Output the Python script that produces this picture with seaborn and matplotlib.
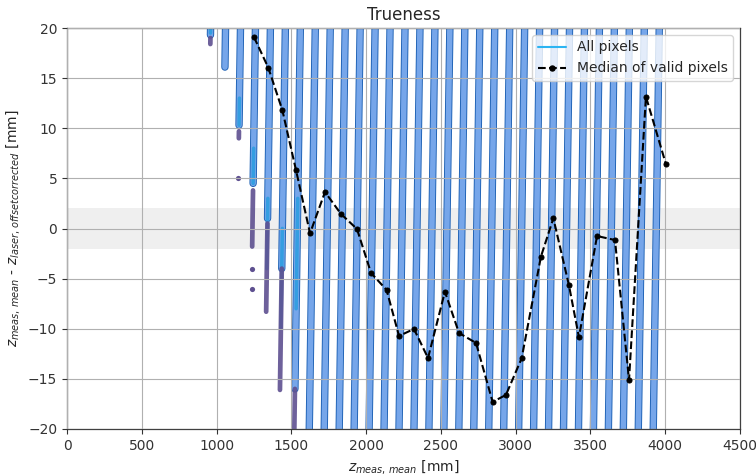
import numpy as np
import pandas as pd
import matplotlib
matplotlib.use("Agg")
import matplotlib.pyplot as plt
import matplotlib.patheffects as pe
from matplotlib.lines import Line2D
import seaborn as sns

# ---- data ----
# "All pixels" bands: nominal laser distance (x at y=0) and lowest y reached
band_x0 = [940, 1040, 1140, 1240, 1340, 1440, 1540, 1640, 1740, 1840, 1940, 2040,
           2140, 2240, 2340, 2440, 2540, 2640, 2740, 2840, 2940, 3040, 3140, 3240,
           3340, 3440, 3540, 3640, 3740, 3840, 3940]
band_bottom = [19.3, 16.1, 10.3, 4.5, 1.0, -4.0, -16.0] + [-26.0] * 24

# brighter cyan parts of the leftmost bands (x0, y_top, y_bottom)
cyan_x0 = [940, 1140, 1240, 1340, 1440, 1540]
cyan_top = [20.5, 13.0, 8.0, 3.0, 0.0, 3.0]
cyan_bot = [19.5, 10.3, 4.5, -4.0, -10.0, -8.0]

# invalid pixels (purple) runs: (x0, y_top, y_bottom)
inv_x0 = [940, 1140, 1240, 1340, 1440, 1540]
inv_top = [19.0, 9.7, 3.8, 0.5, -4.0, -16.0]
inv_bot = [18.4, 9.0, -1.8, -8.3, -16.1, -21.0]
# isolated invalid points
iso_x0 = [1140, 1240, 1240]
iso_y = [5.0, -4.0, -6.0]

# median of valid pixels
median_x = [1250, 1346, 1440, 1531, 1625, 1725, 1832, 1939, 2033, 2137, 2220, 2320,
            2414, 2527, 2621, 2735, 2846, 2935, 3040, 3169, 3252, 3356, 3423, 3544,
            3664, 3758, 3871, 4005]
median_y = [19.1, 16.04, 11.8, 5.84, -0.48, 3.64, 1.45, -0.05, -4.44, -6.13, -10.72, -10.02,
            -12.92, -6.3, -10.42, -11.42, -17.3, -16.6, -12.95, -2.8, 1.02, -5.64, -10.85, -0.75,
            -1.15, -15.1, 13.15, 6.4]

xticks = [0, 500, 1000, 1500, 2000, 2500, 3000, 3500, 4000, 4500]
yticks = [-20, -15, -10, -5, 0, 5, 10, 15, 20]

# ---- plotting ----
sns.set_style("ticks")
plt.rcParams['font.family'] = ['DejaVu Sans']

fig = plt.figure(figsize=(7.56, 4.76), dpi=100)
ax = fig.add_axes([67 / 756, 1 - 429 / 476, (740 - 67) / 756, (429 - 28) / 476])

ax.axhspan(-2, 2, color='#efefef', zorder=0, lw=0)

band_color = '#76a6ea'
edge_color = '#1c60b4'
for x0, b in zip(band_x0, band_bottom):
    ys = np.array([b, 26.0])
    ax.plot(x0 + ys, ys, color=band_color, lw=4.0, solid_capstyle='round', zorder=1,
            path_effects=[pe.Stroke(linewidth=5.3, foreground=edge_color), pe.Normal()])

for x0, t, b in zip(cyan_x0, cyan_top, cyan_bot):
    ys = np.array([b, t])
    ax.plot(x0 + ys, ys, color='#2a9de0', lw=2.6, solid_capstyle='round', zorder=1.2, alpha=0.85)

inv_color = '#5e5090'
for x0, t, b in zip(inv_x0, inv_top, inv_bot):
    ys = np.array([b, t])
    ax.plot(x0 + ys, ys, color=inv_color, lw=3.4, solid_capstyle='round', zorder=1.5, alpha=0.9)
ax.scatter(np.array(iso_x0) + np.array(iso_y), iso_y, s=14, color=inv_color, zorder=1.5, lw=0)

df = pd.DataFrame({"x": median_x, "y": median_y})
sns.lineplot(data=df, x="x", y="y", sort=False, estimator=None, ax=ax, color='black',
             linestyle='--', lw=1.5, marker='o', markersize=3.6, markeredgecolor='black',
             zorder=3)

ax.set_xlim(0, 4500)
ax.set_ylim(-20, 20)
ax.set_xticks(xticks)
ax.set_yticks(yticks)
ax.tick_params(labelsize=10, colors='0.2')
ax.grid(True, color='#b0b0b0', lw=0.8)
ax.set_axisbelow(False)
for s in ax.spines.values():
    s.set_color('0.25')
    s.set_linewidth(0.9)

ax.set_title("Trueness", fontsize=12)
ax.set_xlabel(r"$z_{meas,\,mean}$ [mm]", fontsize=10)
ax.set_ylabel(r"$z_{meas,\,mean}$ - $z_{laser,\,offsetcorrected}$ [mm]", fontsize=10)

handles = [Line2D([0], [0], color='#2cb4f2', lw=1.5),
           Line2D([0], [0], color='black', ls='--', lw=1.5, marker='o', markersize=3.6)]
leg = ax.legend(handles, ["All pixels", "Median of valid pixels"], loc='upper right',
                fontsize=10, framealpha=0.8)
leg.set_zorder(10)

fig.savefig("out.png", dpi=100)
